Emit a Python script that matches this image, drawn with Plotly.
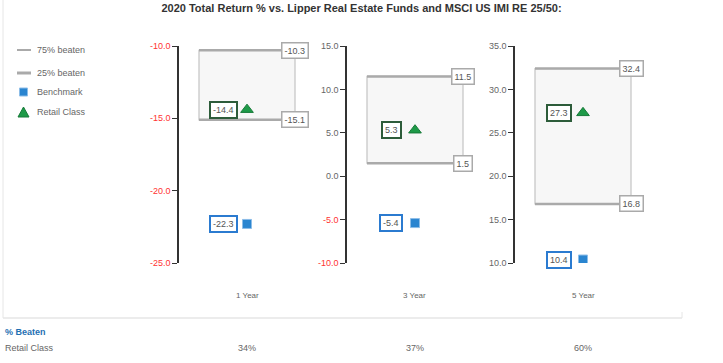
import plotly.graph_objects as go

# ---- data ----
periods = ["1 Year", "3 Year", "5 Year"]
retail = [-14.4, 5.3, 27.3]
benchmark = [-22.3, -5.4, 10.4]
beaten75 = [-10.3, 11.5, 32.4]
beaten25 = [-15.1, 1.5, 16.8]
pct_beaten = ["34%", "37%", "60%"]
y_min = [-25, -10, 10]
y_max = [-10, 15, 35]
tick_step = 5

W, H = 723, 363
TOP, BOT = 46, 263
PH = BOT - TOP

def xp(x):
    return x / W

def yp(y):
    return (BOT - y) / PH

axis_x = [179, 347, 515]
PANEL_W = 140
BOX_L, BOX_R, MARK_X, LAB_X = 20, 116, 68, 44

FONT = "Arial, Liberation Sans, sans-serif"
GREY = "#666666"
RED = "#ff3333"
GREEN = "#1e9a48"
GREEN_DK = "#2d5c3a"
BLUE = "#2a85d0"
BLUE_DK = "#2b7bd0"

fig = go.Figure()
shapes = []
annotations = []
layout_axes = {}

def ann(**kw):
    kw.setdefault("showarrow", False)
    kw.setdefault("xanchor", "center")
    kw.setdefault("yanchor", "middle")
    annotations.append(kw)

for i in range(3):
    n = "" if i == 0 else str(i + 1)
    xa, ya = "x" + n, "y" + n
    d0 = axis_x[i] / W
    d1 = (axis_x[i] + PANEL_W) / W
    tv = list(range(y_min[i], y_max[i] + 1, tick_step))
    tt = []
    for v in tv:
        s = f"{v:.1f}"
        if v < 0:
            tt.append(f'<span style="color:{RED}">{s}</span>')
        else:
            tt.append(s)
    layout_axes["xaxis" + n] = dict(domain=[d0, d1], range=[0, PANEL_W], visible=False,
                                    anchor=ya, fixedrange=True)
    layout_axes["yaxis" + n] = dict(domain=[0, 1], range=[y_min[i], y_max[i]], anchor=xa,
                                    showline=True, linecolor="#333333", linewidth=1.5,
                                    ticks="outside", ticklen=5, tickcolor="#333333", tickwidth=1.2,
                                    tickvals=tv, ticktext=tt, showgrid=False, zeroline=False,
                                    fixedrange=True,
                                    tickfont=dict(size=9, color=GREY, family=FONT))

    # percentile box
    shapes.append(dict(type="rect", xref=xa, yref=ya, x0=BOX_L, x1=BOX_R,
                       y0=beaten25[i], y1=beaten75[i], fillcolor="#f7f7f7",
                       line=dict(color="#c4c4c4", width=1.2), layer="below"))
    for v in (beaten75[i], beaten25[i]):
        shapes.append(dict(type="line", xref=xa, yref=ya, x0=BOX_L, x1=BOX_R, y0=v, y1=v,
                           line=dict(color="#aaaaaa", width=2.5), layer="below"))
        ann(xref=xa, yref=ya, x=BOX_R, y=v, text=f"{v:.1f}",
            bgcolor="white", bordercolor="#aaaaaa", borderwidth=1.5, borderpad=2,
            font=dict(size=9, color="#555555", family=FONT))

    # markers
    fig.add_trace(go.Scatter(x=[MARK_X], y=[retail[i]], xaxis=xa, yaxis=ya, mode="markers",
                             marker=dict(symbol="triangle-up", size=11, color=GREEN,
                                         line=dict(color="#167a38", width=1)),
                             showlegend=False, hoverinfo="skip"))
    fig.add_trace(go.Scatter(x=[MARK_X], y=[benchmark[i]], xaxis=xa, yaxis=ya, mode="markers",
                             marker=dict(symbol="square", size=9, color=BLUE,
                                         line=dict(color="#8cbde8", width=1)),
                             showlegend=False, hoverinfo="skip"))
    ann(xref=xa, yref=ya, x=LAB_X, y=retail[i], text=f"{retail[i]:.1f}",
        bgcolor="white", bordercolor=GREEN_DK, borderwidth=2,
        borderpad=2, font=dict(size=9, color="#555555", family=FONT))
    ann(xref=xa, yref=ya, x=LAB_X, y=benchmark[i], text=f"{benchmark[i]:.1f}",
        bgcolor="white", bordercolor=BLUE_DK, borderwidth=2,
        borderpad=2, font=dict(size=9, color="#555555", family=FONT))

    # category label and table value
    cx = xp(axis_x[i] + MARK_X)
    ann(xref="paper", yref="paper", x=cx, y=yp(295), text=periods[i],
        font=dict(size=8, color=GREY, family=FONT))
    ann(xref="paper", yref="paper", x=cx, y=yp(348), text=pct_beaten[i],
        font=dict(size=9, color=GREY, family=FONT))

# legend (drawn manually)
leg = [("75% beaten", 50), ("25% beaten", 73), ("Benchmark", 92), ("Retail Class", 112)]
shapes.append(dict(type="line", xref="paper", yref="paper", x0=xp(17), x1=xp(31), y0=yp(50), y1=yp(50),
                   line=dict(color="#aaaaaa", width=2)))
shapes.append(dict(type="line", xref="paper", yref="paper", x0=xp(17), x1=xp(31), y0=yp(73), y1=yp(73),
                   line=dict(color="#aaaaaa", width=3)))
shapes.append(dict(type="rect", xref="paper", yref="paper", x0=xp(19.5), x1=xp(27.5), y0=yp(96), y1=yp(88),
                   fillcolor=BLUE, line=dict(color="#8cbde8", width=1)))
shapes.append(dict(type="path", xref="paper", yref="paper",
                   path=f"M{xp(18)},{yp(117)} L{xp(29)},{yp(117)} L{xp(23.5)},{yp(107)} Z",
                   fillcolor=GREEN, line=dict(color="#167a38", width=1)))
for text, y in leg:
    ann(xref="paper", yref="paper", x=xp(35), y=yp(y), xanchor="left", text=text,
        font=dict(size=9, color=GREY, family=FONT))

# table rows
ann(xref="paper", yref="paper", x=xp(3), y=yp(332), xanchor="left",
    text="<b>% Beaten</b>", font=dict(size=9, color="#1f6fb2", family=FONT))
ann(xref="paper", yref="paper", x=xp(3), y=yp(348), xanchor="left",
    text="Retail Class", font=dict(size=9, color=GREY, family=FONT))

# frame
fc = "#e6e6e6"
shapes.append(dict(type="line", xref="paper", yref="paper", x0=xp(3), x1=xp(3), y0=yp(0), y1=yp(318),
                   line=dict(color=fc, width=1)))
shapes.append(dict(type="line", xref="paper", yref="paper", x0=xp(3), x1=xp(682), y0=yp(318), y1=yp(318),
                   line=dict(color=fc, width=1.5)))
shapes.append(dict(type="line", xref="paper", yref="paper", x0=xp(682), x1=xp(682), y0=yp(312), y1=yp(318),
                   line=dict(color=fc, width=1)))

fig.update_layout(
    width=W, height=H,
    margin=dict(l=0, r=0, t=TOP, b=H - BOT, autoexpand=False),
    paper_bgcolor="white", plot_bgcolor="rgba(0,0,0,0)",
    title=dict(text="<b>2020 Total Return % vs. Lipper Real Estate Funds and MSCI US IMI RE 25/50:</b>",
               x=0.5, xanchor="center", y=1 - 8 / H, yanchor="middle",
               font=dict(size=11, color="#333333", family=FONT)),
    shapes=shapes, annotations=annotations, showlegend=False,
    **layout_axes,
)

fig.write_html("out.html", config={"displayModeBar": False},
               post_script="document.body.style.margin='0px';")
